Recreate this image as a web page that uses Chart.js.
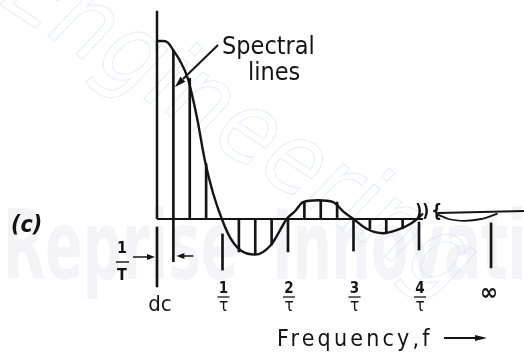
<!DOCTYPE html>
<html>
<head>
<meta charset="utf-8">
<script src="https://cdn.jsdelivr.net/npm/chart.js@4.4.1/dist/chart.umd.min.js"></script>
<style>
  html, body { margin: 0; padding: 0; background: #fff; }
  canvas { display: block; }
</style>
</head>
<body>
<canvas id="spectrumChart" width="524" height="354"></canvas>
<script>
// frequency axis in units of 1/tau, amplitude normalised to the dc line
const tickLabels = ['1', '2', '3', '4'];
const tickX = [1, 2, 3, 4];
const INF_X = 5.1;

// spectral lines at multiples of 1/T (= 1/(4 tau))
const lineX = [0.25, 0.5, 0.75, 1, 1.25, 1.5, 1.75, 2, 2.25, 2.5, 2.75, 3, 3.25, 3.5, 3.75];
const lineY = [0.95, 0.79, 0.31, 0, -0.185, -0.2, -0.146, 0, 0.09, 0.105, 0.095, 0, -0.055, -0.075, -0.055];

// envelope
const curveX = [0, 0.09, 0.17, 0.244, 0.35, 0.47, 0.61, 0.73, 0.855, 0.99, 1.11, 1.27, 1.5, 1.74, 1.88, 1.98, 2.11, 2.23, 2.46, 2.69, 2.85, 3.0, 3.2, 3.45, 3.68, 3.86, 3.97, 4.06];
const curveY = [1.0, 1.0, 0.99, 0.95, 0.89, 0.79, 0.57, 0.33, 0.146, 0, -0.1, -0.174, -0.2, -0.146, -0.062, 0, 0.045, 0.095, 0.105, 0.095, 0.04, 0, -0.055, -0.08, -0.06, -0.03, 0, 0.03];

// the part past the break, near infinity
const tailX = [4.29, 4.45, 4.7, 4.95, 5.2];
const tailY = [0.025, 0.0, -0.01, 0.0, 0.03];
const tailLineX = [4.29, 5.61];
const tailLineY = [0.034, 0.045];

// marks below the axis
const markX = [0, 0.25, 1, 2, 3, 4, INF_X];
const markTop = [-0.045, 0, -0.084, 0, 0, -0.017, -0.022];
const markBottom = [-0.382, -0.24, -0.287, -0.185, -0.18, -0.174, -0.275];

const INK = '#141414';
const FONT = "'DejaVu Sans Condensed', 'Liberation Sans Narrow', 'DejaVu Sans', sans-serif";

function pts(xs, ys) {
    return xs.map((x, i) => ({ x: x, y: ys[i] }));
}

function arrowHead(ctx, x, y, ang, len, wid) {
    ctx.save();
    ctx.translate(x, y);
    ctx.rotate(ang);
    ctx.beginPath();
    ctx.moveTo(0, 0);
    ctx.lineTo(-len, -wid / 2);
    ctx.lineTo(-len, wid / 2);
    ctx.closePath();
    ctx.fill();
    ctx.restore();
}

// faint publisher watermark behind the figure
const watermark = {
    id: 'watermark',
    beforeDraw(chart) {
        const ctx = chart.ctx;
        ctx.save();
        ctx.fillStyle = '#f4f4f8';
        ctx.font = 'bold 96px ' + FONT;
        ctx.textBaseline = 'alphabetic';
        const k = 235 / ctx.measureText('Reprise').width;
        ctx.save();
        ctx.translate(3, 279);
        ctx.scale(k, 1);
        ctx.fillText('Reprise', 0, 0);
        ctx.restore();
        ctx.save();
        ctx.translate(272, 279);
        ctx.scale(k, 1);
        ctx.fillText('Innovation', 0, 0);
        ctx.restore();
        ctx.translate(20, -30);
        ctx.rotate(0.58);
        ctx.strokeStyle = 'rgba(205, 208, 250, 0.45)';
        ctx.lineWidth = 1;
        ctx.font = 'italic 100px ' + FONT;
        ctx.strokeText('Engineering', 0, 40);
        ctx.restore();
    }
};

// labels, axis marks and arrows
const annotations = {
    id: 'annotations',
    afterDraw(chart) {
        const ctx = chart.ctx;
        const xs = chart.scales.x;
        const ys = chart.scales.y;
        const px = v => xs.getPixelForValue(v);
        const py = v => ys.getPixelForValue(v);
        ctx.save();
        ctx.fillStyle = INK;
        ctx.strokeStyle = INK;
        ctx.textAlign = 'center';
        ctx.textBaseline = 'middle';

        // y axis
        ctx.lineWidth = 2.5;
        ctx.beginPath();
        ctx.moveTo(px(0), py(0));
        ctx.lineTo(px(0), py(1.17));
        ctx.stroke();

        // fractions n / tau
        tickX.forEach((t, i) => {
            const x = px(t) + 1;
            ctx.font = 'bold 15px ' + FONT;
            ctx.fillText(tickLabels[i], x, 289);
            ctx.lineWidth = 1.3;
            ctx.beginPath();
            ctx.moveTo(x - 6, 297);
            ctx.lineTo(x + 6, 297);
            ctx.stroke();
            ctx.font = '17px ' + FONT;
            ctx.fillText('\u03c4', x, 307);
        });
        ctx.font = '22px ' + FONT;
        ctx.fillText('dc', px(0) + 3, 305);
        ctx.font = 'bold 24px ' + FONT;
        ctx.fillText('\u221e', px(INF_X) - 2, 294);

        // 1/T spacing marker
        ctx.font = 'bold 16px ' + FONT;
        ctx.fillText('1', 122, 249);
        ctx.fillText('T', 122, 276);
        ctx.lineWidth = 1.4;
        ctx.beginPath();
        ctx.moveTo(116, 262);
        ctx.lineTo(129, 262);
        ctx.stroke();
        ctx.beginPath();
        ctx.moveTo(133, 257);
        ctx.lineTo(px(0) - 8, 257);
        ctx.moveTo(px(0.25) + 20, 256);
        ctx.lineTo(px(0.25) + 8, 256);
        ctx.stroke();
        arrowHead(ctx, px(0) - 2, 257, 0, 8, 6);
        arrowHead(ctx, px(0.25) + 3, 256, Math.PI, 8, 6);

        // break in the frequency axis
        ctx.font = 'bold 17px ' + FONT;
        ctx.fillText('))', px(4.05), 213);
        ctx.fillText('{', px(4.27), 213);

        // callout
        ctx.textAlign = 'left';
        ctx.textBaseline = 'alphabetic';
        ctx.font = '25px ' + FONT;
        ctx.fillText('Spectral', 222, 54);
        ctx.fillText('lines', 248, 80);
        ctx.lineWidth = 2;
        ctx.beginPath();
        ctx.moveTo(218, 45);
        ctx.lineTo(183, 79);
        ctx.stroke();
        arrowHead(ctx, 175, 87, Math.atan2(42, -43), 11, 7);

        // (c)
        ctx.font = 'bold italic 23px ' + FONT;
        ctx.fillText('(c)', 11, 232);

        // axis title
        ctx.font = '23px ' + FONT;
        ctx.letterSpacing = '3.2px';
        ctx.fillText('Frequency,f', 277, 346);
        ctx.letterSpacing = '0px';
        ctx.lineWidth = 2;
        ctx.beginPath();
        ctx.moveTo(444, 338);
        ctx.lineTo(476, 338);
        ctx.stroke();
        arrowHead(ctx, 487, 338, 0, 12, 6);
        ctx.restore();
    }
};

const ctx = document.getElementById('spectrumChart').getContext('2d');
const spectrumChart = new Chart(ctx, {
    type: 'bar',
    data: {
        datasets: [
            {
                label: 'spectral lines',
                data: lineX.map((x, i) => ({ x: x, y: [0, lineY[i]] })),
                backgroundColor: INK,
                barThickness: 2,
                grouped: false
            },
            {
                label: 'marks',
                data: markX.map((x, i) => ({ x: x, y: [markTop[i], markBottom[i]] })),
                backgroundColor: INK,
                barThickness: 2,
                grouped: false
            },
            {
                type: 'line',
                label: 'baseline',
                data: pts([0, 4.06], [0, 0]),
                borderColor: INK,
                borderWidth: 2,
                pointRadius: 0
            },
            {
                type: 'line',
                label: 'envelope',
                data: pts(curveX, curveY),
                borderColor: INK,
                borderWidth: 2.4,
                pointRadius: 0,
                cubicInterpolationMode: 'monotone'
            },
            {
                type: 'line',
                label: 'tail line',
                data: pts(tailLineX, tailLineY),
                borderColor: INK,
                borderWidth: 2,
                pointRadius: 0
            },
            {
                type: 'line',
                label: 'tail',
                data: pts(tailX, tailY),
                borderColor: INK,
                borderWidth: 1.8,
                pointRadius: 0,
                cubicInterpolationMode: 'monotone'
            }
        ]
    },
    options: {
        responsive: false,
        animation: false,
        devicePixelRatio: 1,
        layout: { padding: 0 },
        plugins: {
            legend: { display: false },
            tooltip: { enabled: false }
        },
        scales: {
            x: { type: 'linear', offset: false, min: -2.397, max: 5.603, display: false },
            y: { type: 'linear', min: -0.7584, max: 1.2303, display: false }
        }
    },
    plugins: [watermark, annotations]
});
</script>
</body>
</html>
